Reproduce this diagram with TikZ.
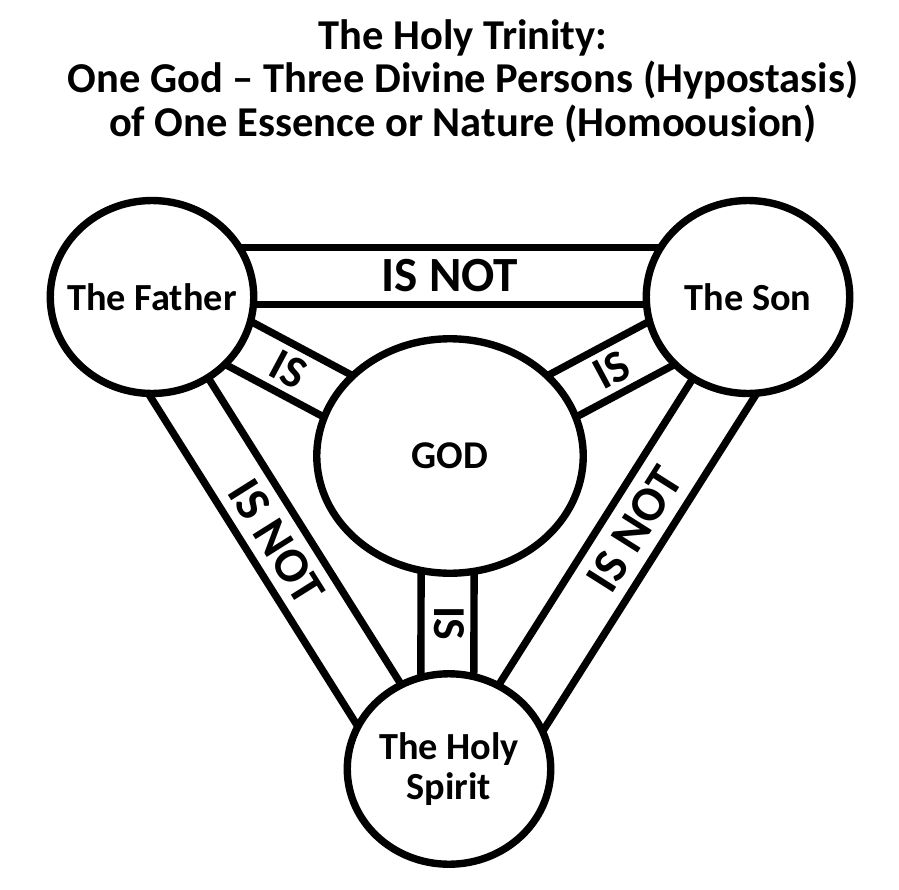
\documentclass[tikz,border=0pt]{standalone}
\usepackage{fontspec}
\setmainfont{Carlito}
\usetikzlibrary{calc,shapes.geometric,backgrounds}

\begin{document}
\begin{tikzpicture}[x=0.02cm, y=-0.02cm,
	person/.style={draw, ellipse, fill=white, line width=4.2pt, inner sep=0pt, minimum width=4.07cm, minimum height=3.86cm},
	band/.style={line width=4.2pt},
	rel/.style={font=\bfseries\fontsize{28pt}{28pt}\selectfont, inner sep=0pt},
	every label/.style={font=\bfseries\fontsize{21.8pt}{23pt}\selectfont, align=center}]
	\useasboundingbox (0,0) rectangle (899,889);

	% Title
	\node [font=\bfseries\fontsize{24.2pt}{24.7pt}\selectfont, align=center] (title) at (463,81)
		{The Holy Trinity:\\One God -- Three Divine Persons (Hypostasis)\\of One Essence or Nature (Homoousion)};

	% Nodes {F, S, H, G}
	\node [person, label={center:The Father}]        (F) at (152,297) {};
	\node [person, label={center:The Son}]           (S) at (748,297) {};
	\node [person, label={center:The Holy\\Spirit}, minimum height=3.81cm] (H) at (449,769) {};
	\node [person, minimum width=5.33cm, minimum height=4.69cm, font=\bfseries\fontsize{22.4pt}{22.4pt}\selectfont] (G) at (450,456) {GOD};

	% Bands
	\begin{pgfonlayer}{background}
	\draw [band] ($(F)!-0.15cm!90:(S)$) -- ($(S)!-0.15cm!-90:(F)$)
	             ($(F)!0.99cm!90:(S)$)  -- ($(S)!0.99cm!-90:(F)$);
	\draw [band] ($(F)!-0.09cm!-90:(H)$) -- ($(H)!-0.09cm!90:(F)$)
	             ($(F)!1.09cm!-90:(H)$)  -- ($(H)!1.09cm!90:(F)$);
	\draw [band] ($(S)!-0.06cm!90:(H)$) -- ($(H)!-0.06cm!-90:(S)$)
	             ($(S)!1.18cm!90:(H)$)  -- ($(H)!1.18cm!-90:(S)$);
	\draw [band] ($(F)!0.5cm!90:(G)$)  -- ($(G)!0.5cm!-90:(F)$)
	             ($(F)!-0.5cm!90:(G)$) -- ($(G)!-0.5cm!-90:(F)$);
	\draw [band] ($(S)!0.5cm!90:(G)$)  -- ($(G)!0.5cm!-90:(S)$)
	             ($(S)!-0.5cm!90:(G)$) -- ($(G)!-0.5cm!-90:(S)$);
	\draw [band] ($(G)!0.49cm!90:(H)$)  -- ($(H)!0.49cm!-90:(G)$)
	             ($(G)!-0.57cm!90:(H)$) -- ($(H)!-0.57cm!-90:(G)$);
	\end{pgfonlayer}

	% Labels
	\path ($(F)!0.42cm!90:(S)$) -- ($(S)!0.42cm!-90:(F)$) node [rel, midway]          {IS NOT};
	\path ($(F)!0.5cm!-90:(H)$) -- ($(H)!0.5cm!90:(F)$)   node [rel, sloped, pos=0.49] {IS NOT};
	\path ($(S)!0.56cm!90:(H)$) -- ($(H)!0.56cm!-90:(S)$) node [rel, sloped, pos=0.46] {IS NOT};
	\path (F) -- (G) node [rel, sloped, midway, font=\bfseries\fontsize{26pt}{26pt}\selectfont]    {IS};
	\path (S) -- (G) node [rel, sloped, midway, font=\bfseries\fontsize{26pt}{26pt}\selectfont]    {IS};
	\path (G) -- (H) node [rel, rotate=-90, midway, font=\bfseries\fontsize{26pt}{26pt}\selectfont] {IS};
\end{tikzpicture}
\end{document}
